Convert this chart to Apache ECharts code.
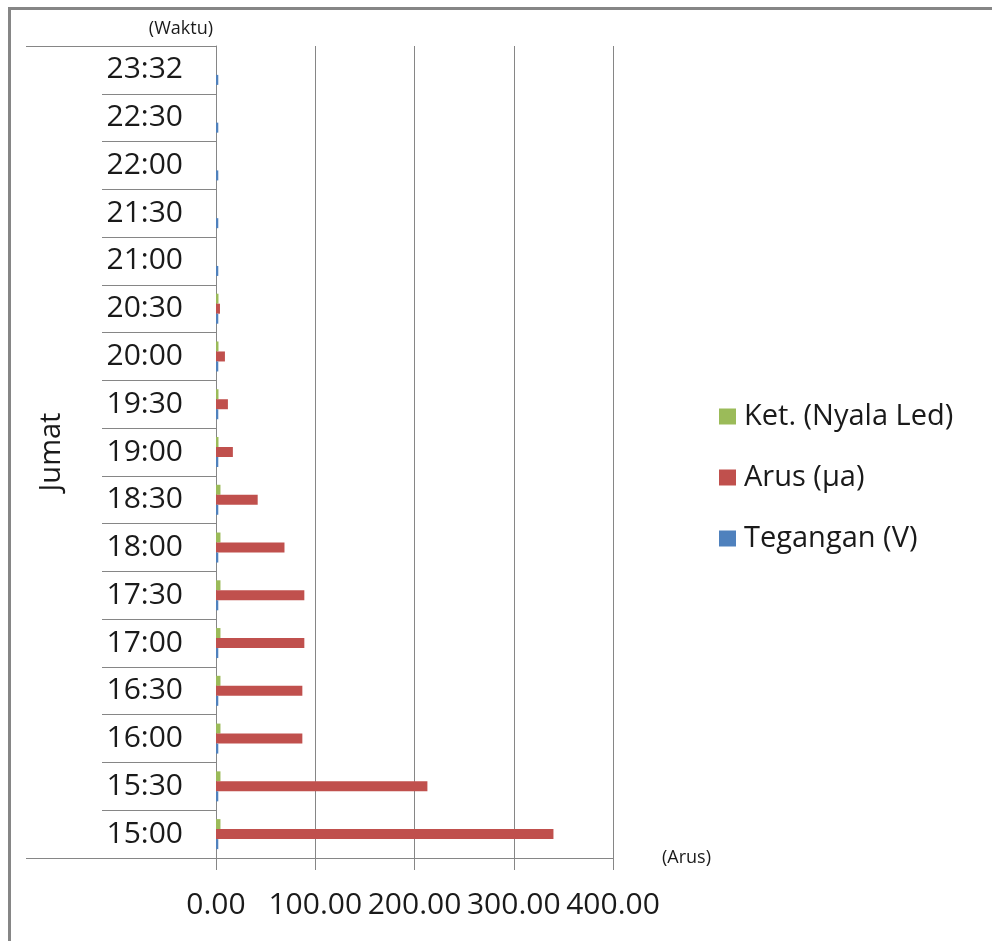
<!DOCTYPE html>
<html>
<head>
<meta charset="utf-8">
<script src="https://cdn.jsdelivr.net/npm/echarts@6/dist/echarts.min.js"></script>
<style>
  html, body { margin: 0; padding: 0; background: #fff; overflow: hidden; }
  #chart { width: 992px; height: 941px; }
</style>
</head>
<body>
<div id="chart"></div>
<script>
// Jam pengukuran (bawah ke atas)
const waktu = ['15:00', '15:30', '16:00', '16:30', '17:00', '17:30', '18:00', '18:30',
               '19:00', '19:30', '20:00', '20:30', '21:00', '21:30', '22:00', '22:30', '23:32'];
const hari = ['Jumat'];

// Nilai tiap seri
const tegangan = [2.3, 2.3, 2.3, 2.3, 2.3, 2.3, 2.3, 2.3, 2.3, 2.3, 2.3, 2.3, 2.3, 2.3, 2.3, 2.3, 2.3];
const arus     = [340, 213, 87, 87, 89, 89, 69, 42, 17, 12, 9, 4, 0, 0, 0, 0, 0];
const nyalaLed = [4.5, 4.5, 4.5, 4.5, 4.5, 4.5, 4.5, 4.5, 2.5, 2.5, 2.5, 2.5, 0, 0, 0, 0, 0];

// Sumbu nilai
const arusTicks = [0, 100, 200, 300, 400];

const FONT = 'Open Sans';
const GRID = '#868686';
const TEXT = '#1a1a1a';

const chart = echarts.init(document.getElementById('chart'), null, { renderer: 'canvas' });

chart.setOption({
  animation: false,
  backgroundColor: '#ffffff',
  // bingkai area grafik (sisi kiri dan atas)
  graphic: [{
    type: 'polyline',
    shape: { points: [[9.5, 1000], [9.5, 8.5], [1000, 8.5]] },
    style: { fill: 'none', stroke: GRID, lineWidth: 3 },
    silent: true
  }],
  grid: { left: 216, right: 379, top: 46, bottom: 83, containLabel: false },
  legend: {
    orient: 'vertical',
    left: 714,
    top: 396,
    itemWidth: 17,
    itemHeight: 16,
    itemGap: 30,
    icon: 'rect',
    data: ['Ket. (Nyala Led)', 'Arus (µa)', 'Tegangan (V)'],
    textStyle: { fontFamily: FONT, fontSize: 29, color: TEXT, lineHeight: 31, padding: [0, 0, 0, 3] }
  },
  xAxis: {
    type: 'value',
    min: arusTicks[0],
    max: arusTicks[arusTicks.length - 1],
    interval: arusTicks[1] - arusTicks[0],
    name: '(Arus)',
    nameLocation: 'end',
    nameGap: 49,
    nameTextStyle: { fontFamily: FONT, fontSize: 18, color: TEXT, align: 'left', verticalAlign: 'middle' },
    axisLine: { show: true, lineStyle: { color: GRID, width: 1 } },
    axisTick: { show: true, length: 12, lineStyle: { color: GRID } },
    splitLine: { show: true, lineStyle: { color: GRID, width: 1 } },
    axisLabel: {
      fontFamily: FONT, fontSize: 30, color: TEXT, margin: 32,
      formatter: v => v.toFixed(2)
    }
  },
  yAxis: [{
    type: 'category',
    data: waktu,
    name: '(Waktu)',
    nameLocation: 'end',
    nameGap: 8,
    nameTextStyle: { fontFamily: FONT, fontSize: 18, color: TEXT, align: 'right', padding: [0, 3, 0, 0] },
    axisLine: { show: true, lineStyle: { color: GRID, width: 1 } },
    axisTick: { show: true, interval: 0, length: 114, lineStyle: { color: GRID } },
    axisLabel: { fontFamily: FONT, fontSize: 30, color: TEXT, margin: 33, interval: 0 }
  }, {
    type: 'category',
    data: hari,
    position: 'left',
    axisLine: { show: false },
    axisTick: { show: true, interval: 0, length: 190, lineStyle: { color: GRID } },
    axisLabel: { fontFamily: FONT, fontSize: 29, color: TEXT, rotate: 90, margin: 150 }
  }],
  // urutan seri: atas ke bawah di dalam tiap kategori
  series: [{
    name: 'Ket. (Nyala Led)',
    type: 'bar',
    data: nyalaLed,
    barWidth: 10,
    barGap: '0%',
    itemStyle: { color: '#9BBB59' }
  }, {
    name: 'Arus (µa)',
    type: 'bar',
    data: arus,
    barWidth: 10,
    barGap: '0%',
    itemStyle: { color: '#C0504D' }
  }, {
    name: 'Tegangan (V)',
    type: 'bar',
    data: tegangan,
    barWidth: 10,
    barGap: '0%',
    itemStyle: { color: '#4F81BD' }
  }]
});
</script>
</body>
</html>
